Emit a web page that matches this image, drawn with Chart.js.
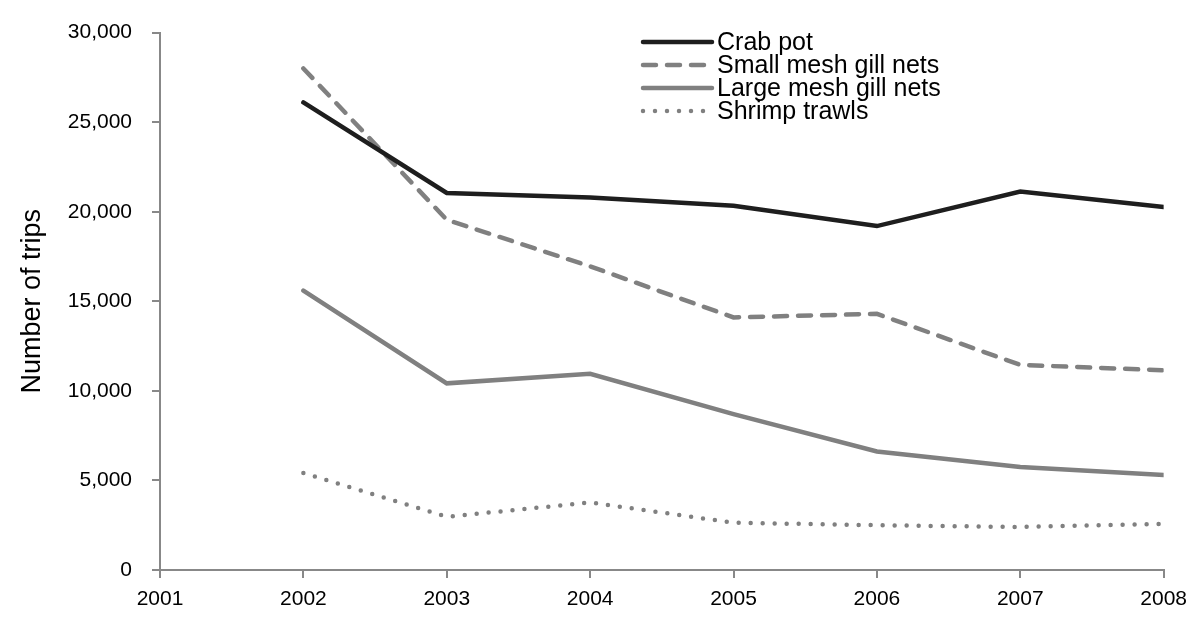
<!DOCTYPE html>
<html>
<head>
<meta charset="utf-8">
<script src="https://cdn.jsdelivr.net/npm/chart.js@4/dist/chart.umd.min.js"></script>
<style>
html,body{margin:0;padding:0;background:#fff;}
#wrap{width:1196px;height:625px;position:relative;}
</style>
</head>
<body>
<div id="wrap"><canvas id="c" width="1196" height="625"></canvas></div>
<script>
const years = [2002, 2003, 2004, 2005, 2006, 2007, 2008];
const crabPot = [26100, 21050, 20800, 20330, 19200, 21130, 20260];
const smallMesh = [28000, 19550, 16950, 14100, 14300, 11450, 11150];
const largeMesh = [15600, 10420, 10950, 8700, 6620, 5750, 5300];
const shrimpTrawls = [5420, 2970, 3770, 2640, 2500, 2400, 2580];
const seriesNames = ["Crab pot", "Small mesh gill nets", "Large mesh gill nets", "Shrimp trawls"];
const xTicks = [2001, 2002, 2003, 2004, 2005, 2006, 2007, 2008];
const yTicks = [0, 5000, 10000, 15000, 20000, 25000, 30000];

const FONT = "'Liberation Sans', Arial, sans-serif";
const pts = vals => years.map((y, i) => ({x: y, y: vals[i]}));

const styles = [
  {color: '#1e1e1e', dash: []},
  {color: '#808080', dash: [13, 11]},
  {color: '#808080', dash: []},
  {color: '#808080', dash: [0, 12]}
];
const allVals = [crabPot, smallMesh, largeMesh, shrimpTrawls];

const legendPlugin = {
  id: 'customLegend',
  afterDraw(chart) {
    const ctx = chart.ctx;
    ctx.save();
    const x0 = 643, x1 = 712, tx = 717;
    seriesNames.forEach((name, i) => {
      const y = 42 + i * 23;
      const s = styles[i];
      ctx.beginPath();
      ctx.strokeStyle = s.color;
      ctx.lineWidth = 4.5;
      ctx.lineCap = 'round';
      ctx.setLineDash(s.dash);
      ctx.moveTo(x0, y);
      ctx.lineTo(x1, y);
      ctx.stroke();
      ctx.setLineDash([]);
      ctx.fillStyle = '#000';
      ctx.font = '25px ' + FONT;
      ctx.textBaseline = 'middle';
      ctx.textAlign = 'left';
      ctx.fillText(name, tx, y + 1);
    });
    ctx.restore();
  }
};

new Chart(document.getElementById('c'), {
  type: 'line',
  data: {
    datasets: seriesNames.map((name, i) => ({
      label: name,
      data: pts(allVals[i]),
      borderColor: styles[i].color,
      borderWidth: 4.5,
      borderDash: styles[i].dash,
      borderCapStyle: 'round',
      borderJoinStyle: 'miter',
      pointRadius: 0,
      fill: false,
      tension: 0
    }))
  },
  options: {
    responsive: false,
    animation: false,
    devicePixelRatio: 1,
    layout: {padding: {top: 18, right: 30, left: 16, bottom: 0}},
    plugins: {legend: {display: false}, tooltip: {enabled: false}},
    scales: {
      x: {
        type: 'linear',
        min: 2001, max: 2008,
        afterBuildTicks: s => { s.ticks = xTicks.map(v => ({value: v})); },
        ticks: {
          callback: v => String(v),
          color: '#000',
          font: {family: FONT, size: 21},
          padding: 9,
          maxRotation: 0
        },
        grid: {drawOnChartArea: false, drawTicks: true, tickLength: 8, color: '#888', lineWidth: 2},
        border: {color: '#888', width: 2},
        afterFit: s => { s.height = 55; }
      },
      y: {
        min: 0, max: 30000,
        afterBuildTicks: s => { s.ticks = yTicks.map(v => ({value: v})); },
        ticks: {
          callback: v => v.toLocaleString('en-US'),
          color: '#000',
          font: {family: FONT, size: 21},
          padding: 20
        },
        title: {display: true, text: 'Number of trips', color: '#000', font: {family: FONT, size: 27}, padding: {top: 0, bottom: 0}},
        grid: {drawOnChartArea: false, drawTicks: true, tickLength: 8, color: '#888', lineWidth: 2},
        border: {color: '#888', width: 2},
        afterFit: s => { s.width = 144; }
      }
    }
  },
  plugins: [legendPlugin]
});
</script>
</body>
</html>
